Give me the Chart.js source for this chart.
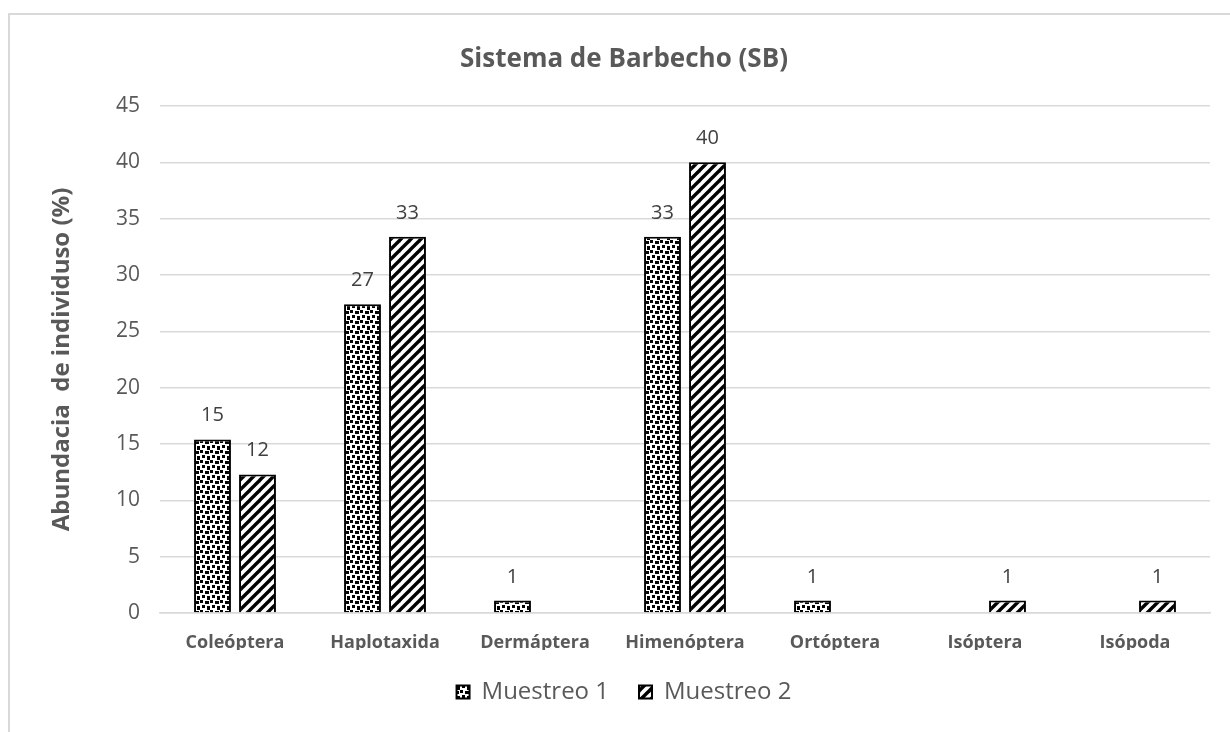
<!DOCTYPE html>
<html lang="es">
<head>
<meta charset="utf-8">
<title>Sistema de Barbecho (SB)</title>
<script src="https://cdn.jsdelivr.net/npm/chart.js@4/dist/chart.umd.min.js"></script>
<style>
  html, body { margin: 0; padding: 0; background: #ffffff; overflow: hidden; }
  #frame {
    position: absolute; left: 8px; top: 13px;
    width: 1300px; height: 800px;
    border: 2px solid #d9d9d9; box-sizing: border-box;
  }
  #wrap { position: absolute; left: 0; top: 0; width: 1230px; height: 732px; }
</style>
</head>
<body>
<div id="frame"></div>
<div id="wrap"><canvas id="chart"></canvas></div>
<script>
// Orders (taxa) sampled and relative abundance (%) in each sampling
const categories = ['Coleóptera', 'Haplotaxida', 'Dermáptera', 'Himenóptera', 'Ortóptera', 'Isóptera', 'Isópoda'];
const seriesNames = ['Muestreo 1', 'Muestreo 2'];
const muestreo1 = [15.4, 27.4, 1.1, 33.4, 1.1, null, null];
const muestreo2 = [12.3, 33.4, null, 40.0, null, 1.1, 1.1];
const yMin = 0;
const yMax = 45;
const yStep = 5;
const chartTitle = 'Sistema de Barbecho (SB)';
const yTitle = 'Abundacia  de individuso (%)';

const FONT = "'Open Sans', 'DejaVu Sans', sans-serif";
const GREY_TEXT = '#595959';

// "Large confetti" style fill: scattered black squares
function confettiPattern() {
  const s = 10;
  const c = document.createElement('canvas');
  c.width = s; c.height = s;
  const g = c.getContext('2d');
  g.fillStyle = '#ffffff';
  g.fillRect(0, 0, s, s);
  g.fillStyle = '#000000';
  const spots = [[0, 0, 3, 3], [5, 1, 4, 3], [2, 5, 3, 3], [7, 6, 3, 4]];
  spots.forEach(([x, y, w, h]) => g.fillRect(x, y, w, h));
  return g.createPattern(c, 'repeat');
}

// Wide upward diagonal stripes
function stripePattern() {
  const s = 10;
  const c = document.createElement('canvas');
  c.width = s; c.height = s;
  const g = c.getContext('2d');
  g.fillStyle = '#ffffff';
  g.fillRect(0, 0, s, s);
  g.strokeStyle = '#000000';
  g.lineWidth = 3.4;
  g.lineCap = 'square';
  [[-s, s, s, -s], [0, s, s, 0], [0, 2 * s, 2 * s, 0]].forEach(([x1, y1, x2, y2]) => {
    g.beginPath(); g.moveTo(x1, y1); g.lineTo(x2, y2); g.stroke();
  });
  return g.createPattern(c, 'repeat');
}

// Value labels above each bar
const valueLabels = {
  id: 'valueLabels',
  afterDatasetsDraw(chart) {
    const ctx = chart.ctx;
    ctx.save();
    ctx.font = '20px ' + FONT;
    ctx.fillStyle = '#404040';
    ctx.textAlign = 'center';
    ctx.textBaseline = 'alphabetic';
    chart.data.datasets.forEach((ds, i) => {
      const meta = chart.getDatasetMeta(i);
      meta.data.forEach((bar, j) => {
        const v = ds.data[j];
        if (v === null || v === undefined) return;
        ctx.fillText(String(Math.round(v)), bar.x, bar.y - 18);
      });
    });
    ctx.restore();
  }
};

Chart.defaults.font.family = FONT;
Chart.defaults.color = GREY_TEXT;

new Chart(document.getElementById('chart'), {
  type: 'bar',
  data: {
    labels: categories,
    datasets: [
      {
        label: seriesNames[0],
        data: muestreo1,
        backgroundColor: confettiPattern(),
        borderColor: '#000000',
        borderWidth: 2,
        categoryPercentage: 0.6,
        barPercentage: 0.82
      },
      {
        label: seriesNames[1],
        data: muestreo2,
        backgroundColor: stripePattern(),
        borderColor: '#000000',
        borderWidth: 2,
        categoryPercentage: 0.6,
        barPercentage: 0.82
      }
    ]
  },
  options: {
    responsive: true,
    maintainAspectRatio: false,
    animation: false,
    layout: { padding: { top: 20, left: 38, right: 20, bottom: 18 } },
    plugins: {
      title: {
        display: true,
        text: chartTitle,
        color: GREY_TEXT,
        font: { size: 26, weight: 'bold' },
        padding: { top: 24.4, bottom: 30.4 }
      },
      legend: {
        display: true,
        position: 'bottom',
        labels: {
          boxWidth: 13,
          boxHeight: 13,
          padding: 30,
          color: GREY_TEXT,
          font: { size: 24 }
        }
      },
      tooltip: { enabled: false }
    },
    scales: {
      x: {
        grid: { display: false, drawTicks: false },
        border: { display: true, color: '#d9d9d9', width: 1.5 },
        ticks: {
          color: GREY_TEXT,
          font: { size: 18, weight: 'bold' },
          padding: 19,
          maxRotation: 0,
          autoSkip: false
        },
        afterFit(scale) { scale.height = 37; }
      },
      y: {
        min: yMin,
        max: yMax,
        grid: { color: '#d9d9d9', lineWidth: 1.5, drawTicks: false },
        border: { display: false },
        ticks: {
          stepSize: yStep,
          color: GREY_TEXT,
          font: { size: 21 },
          padding: 20
        },
        title: {
          display: true,
          text: yTitle,
          color: GREY_TEXT,
          font: { size: 24, weight: 'bold' },
          padding: { top: 9.6, bottom: 0 }
        },
        afterFit(scale) { scale.width = 122; }
      }
    }
  },
  plugins: [valueLabels]
});
</script>
</body>
</html>
